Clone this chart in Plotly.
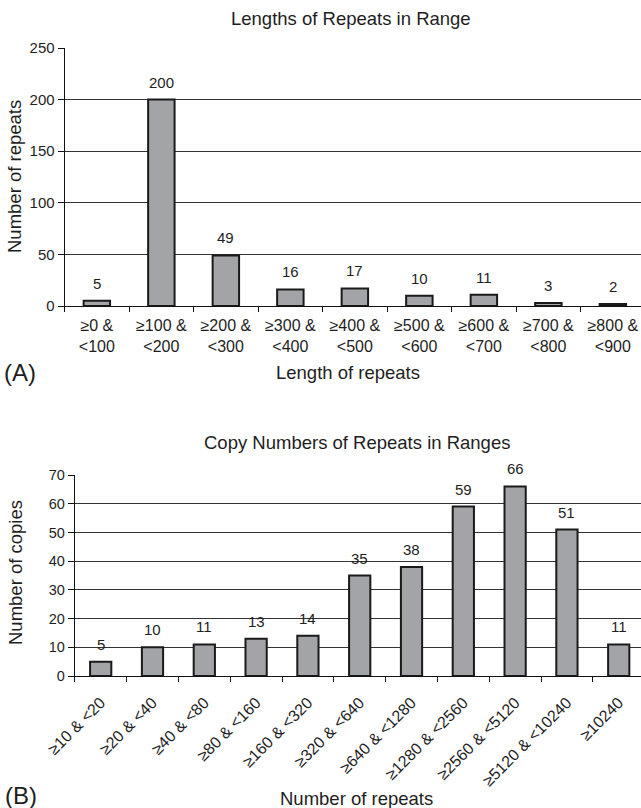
import plotly.graph_objects as go

# Chart A data
cats_a = ["≥0 &<br><100", "≥100 &<br><200", "≥200 &<br><300", "≥300 &<br><400",
          "≥400 &<br><500", "≥500 &<br><600", "≥600 &<br><700", "≥700 &<br><800",
          "≥800 &<br><900"]
vals_a = [5, 200, 49, 16, 17, 10, 11, 3, 2]

# Chart B data
cats_b = ["≥10 & <20", "≥20 & <40", "≥40 & <80", "≥80 & <160", "≥160 & <320",
          "≥320 & <640", "≥640 & <1280", "≥1280 & <2560", "≥2560 & <5120",
          "≥5120 & <10240", "≥10240"]
vals_b = [5, 10, 11, 13, 14, 35, 38, 59, 66, 51, 11]

W, H = 641, 808
FONT = "Liberation Sans, Arial, Helvetica, sans-serif"
TXT = "#1e1e1e"
BAR = "#a3a4a8"
EDGE = "#1a1a1a"

fig = go.Figure()
fig.add_trace(go.Bar(x=cats_a, y=vals_a, width=0.41, marker=dict(color=BAR, line=dict(color=EDGE, width=2)),
                     xaxis="x", yaxis="y", showlegend=False, hoverinfo="skip"))
fig.add_trace(go.Bar(x=cats_b, y=vals_b, width=0.41, marker=dict(color=BAR, line=dict(color=EDGE, width=2)),
                     xaxis="x2", yaxis="y2", showlegend=False, hoverinfo="skip"))

def px_x(p):
    return p / W

def px_y(p):
    return 1 - p / H

annotations = []
for c, v in zip(cats_a, vals_a):
    annotations.append(dict(x=c, y=v, xref="x", yref="y", text=str(v), showarrow=False,
                            yanchor="bottom", yshift=7, font=dict(size=15, color=TXT, family=FONT)))
for c, v in zip(cats_b, vals_b):
    annotations.append(dict(x=c, y=v, xref="x2", yref="y2", text=str(v), showarrow=False,
                            yanchor="bottom", yshift=7, font=dict(size=15, color=TXT, family=FONT)))

def txt(text, x, y, size, angle=0, xanchor="center"):
    return dict(text=text, x=px_x(x), y=px_y(y), xref="paper", yref="paper", showarrow=False,
                xanchor=xanchor, yanchor="middle", textangle=angle,
                font=dict(size=size, color=TXT, family=FONT))

annotations += [
    txt("Lengths of Repeats in Range", 351, 18, 18.5),
    txt("Number of repeats", 15, 177, 18.5, -90),
    txt("Length of repeats", 348, 372, 18.5),
    txt("(A)", 2, 372, 24, xanchor="left"),
    txt("Copy Numbers of Repeats in Ranges", 357, 442, 18.5),
    txt("Number of copies", 15, 573, 18.5, -90),
    txt("Number of repeats", 356, 798, 18.5),
    txt("(B)", 3, 795, 24, xanchor="left"),
]

def yax(size):
    return dict(showgrid=True, gridcolor="#333333", gridwidth=1, showline=True, linecolor="#111",
                linewidth=1, ticks="outside", ticklen=6, tickcolor="#111", zeroline=False,
                automargin=False, tickfont=dict(size=size, color=TXT, family=FONT))

def xax(standoff):
    return dict(type="category", showgrid=False, showline=True, linecolor="#111", linewidth=1,
                ticks="outside", ticklen=5, tickcolor="#111", tickson="boundaries",
                ticklabelstandoff=standoff, automargin=False,
                tickfont=dict(size=16, color=TXT, family=FONT))

fig.update_layout(
    template="none",
    width=W, height=H, margin=dict(l=0, r=0, t=0, b=0, autoexpand=False),
    paper_bgcolor="white", plot_bgcolor="white",
    xaxis=dict(domain=[px_x(64.6), 1], anchor="y", range=[-0.5, 8.436], tickangle=0, **xax(5)),
    yaxis=dict(domain=[px_y(306), px_y(48)], anchor="x", range=[0, 250],
               tickvals=[0, 50, 100, 150, 200, 250], **yax(15)),
    xaxis2=dict(domain=[px_x(74.8), 1], anchor="y2", range=[-0.5, 10.43], tickangle=-45, **xax(10)),
    yaxis2=dict(domain=[px_y(676), px_y(475)], anchor="x2", range=[0, 70],
                tickvals=list(range(0, 71, 10)), **yax(14.5)),
    annotations=annotations,
    bargap=0.5,
)

fig.write_html("out.html", config={"displayModeBar": False, "staticPlot": True},
               post_script="document.body.style.margin='0';document.body.style.overflow='hidden';")
